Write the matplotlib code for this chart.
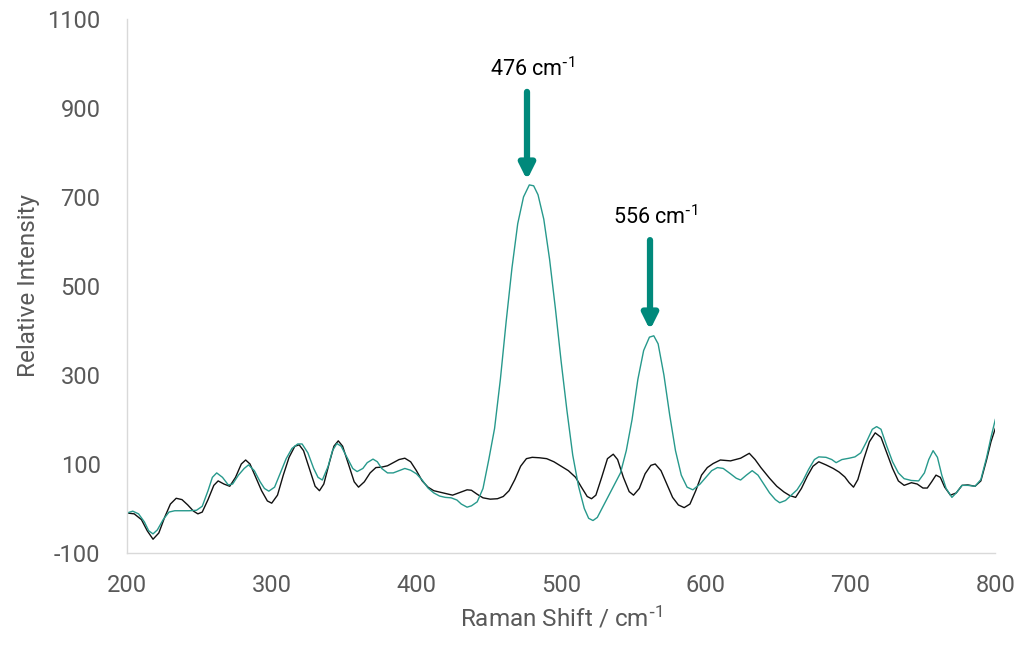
import numpy as np
import matplotlib
matplotlib.use('Agg')
from matplotlib import pyplot as plt

plt.rcParams['font.family'] = ['Roboto', 'DejaVu Sans']
plt.rcParams['mathtext.default'] = 'regular'
plt.rcParams['axes.unicode_minus'] = False

# black trace (raman shift, intensity)
black_x = [200, 205, 210, 214, 218, 222, 226, 230, 234, 238, 242, 246, 249, 252, 256, 260, 263, 267, 271, 275,
           279, 282, 285, 289, 293, 297, 300, 304, 308, 312, 316, 319, 322, 326, 330, 333, 336, 340, 343, 346,
           349, 353, 357, 360, 364, 368, 372, 376, 380, 384, 388, 392, 396, 400, 404, 408, 412, 416, 420, 425,
           430, 435, 438, 442, 446, 451, 456, 460, 464, 468, 472, 476, 480, 485, 490, 495, 500, 505, 510, 514,
           518, 521, 524, 528, 532, 536, 539, 543, 547, 550, 554, 558, 562, 565, 569, 573, 577, 581, 585, 589,
           593, 597, 601, 605, 610, 617, 624, 630, 634, 638, 644, 649, 654, 658, 662, 666, 670, 674, 678, 683,
           688, 692, 696, 699, 702, 705, 709, 713, 717, 721, 725, 729, 733, 737, 742, 746, 750, 753, 756, 759,
           762, 765, 769, 773, 777, 781, 786, 790, 794, 797, 800]
black_y = [-10, -12, -25, -50, -69, -55, -20, 10, 23, 20, 8, -6, -12, -8, 20, 52, 62, 55, 50, 70,
           100, 109, 100, 70, 40, 17, 12, 30, 75, 115, 140, 143, 130, 90, 50, 40, 55, 105, 140, 152,
           140, 100, 60, 48, 60, 80, 92, 93, 96, 103, 110, 113, 105, 85, 62, 48, 40, 37, 34, 30,
           36, 42, 41, 32, 24, 21, 22, 27, 40, 65, 95, 112, 115, 114, 112, 105, 95, 85, 70, 48,
           27, 22, 30, 70, 112, 122, 110, 70, 38, 30, 45, 78, 97, 100, 85, 55, 25, 8, 2, 10,
           40, 75, 92, 101, 109, 107, 113, 124, 110, 92, 68, 50, 37, 29, 25, 45, 72, 95, 105, 98,
           90, 82, 71, 58, 48, 65, 110, 150, 170, 160, 125, 90, 62, 52, 58, 55, 46, 46, 60, 75,
           70, 48, 30, 35, 52, 53, 50, 62, 110, 150, 180]

# teal trace
teal_x = [200, 204, 208, 212, 215, 218, 221, 225, 229, 233, 238, 243, 248, 252, 256, 259, 262, 266, 270, 273,
          277, 281, 284, 288, 292, 295, 298, 302, 306, 310, 314, 318, 321, 325, 329, 332, 335, 339, 342, 345,
          348, 352, 356, 359, 363, 366, 370, 373, 376, 380, 384, 388, 392, 396, 400, 404, 408, 412, 416, 420,
          424, 428, 431, 435, 438, 442, 446, 450, 454, 458, 462, 466, 470, 474, 478, 481, 484, 488, 492, 496,
          500, 504, 508, 512, 516, 519, 522, 525, 529, 533, 537, 541, 545, 549, 553, 557, 561, 564, 567, 571,
          575, 579, 583, 587, 591, 596, 600, 604, 608, 612, 617, 621, 624, 628, 632, 636, 640, 644, 648, 651,
          655, 659, 663, 667, 671, 675, 678, 683, 687, 690, 694, 699, 703, 707, 711, 715, 718, 721, 725, 729,
          733, 737, 742, 747, 751, 754, 757, 760, 763, 766, 770, 773, 777, 781, 786, 790, 794, 797, 800]
teal_y = [-10, -6, -12, -30, -50, -57, -48, -25, -8, -5, -5, -5, -4, 5, 40, 70, 80, 70, 53, 55,
          75, 90, 98, 85, 60, 45, 39, 48, 80, 112, 135, 145, 145, 125, 90, 70, 64, 95, 130, 146,
          140, 115, 90, 83, 90, 103, 111, 105, 90, 80, 80, 85, 90, 86, 78, 64, 46, 35, 28, 25,
          24, 19, 10, 3, 6, 15, 45, 110, 180, 290, 420, 540, 640, 700, 727, 725, 705, 650, 560, 450,
          330, 220, 120, 50, 0, -22, -27, -20, 5, 30, 55, 80, 130, 200, 290, 355, 385, 388, 370, 300,
          210, 130, 75, 48, 42, 55, 70, 85, 92, 90, 78, 68, 64, 75, 85, 75, 55, 35, 20, 13,
          18, 30, 42, 62, 88, 110, 116, 115, 110, 103, 110, 113, 116, 125, 150, 178, 184, 178, 140, 105,
          80, 67, 63, 62, 80, 110, 130, 115, 75, 45, 25, 35, 52, 52, 50, 65, 115, 160, 200]

# peak labels: text, arrow x, arrow tail y, arrow head y
peaks = ['476 cm$^{\\text{-}1}$', '556 cm$^{\\text{-}1}$']
peak_x = [476.4, 561.4]
peak_tail = [936, 603]
peak_head = [738, 401]

grey = '#595959'
teal = '#27998C'
arrow_col = '#00897B'

fig = plt.figure(figsize=(10.24, 6.51), dpi=100)
ax = fig.add_axes([0.124, 0.1505, 0.848, 0.8205])

ax.plot(black_x, black_y, color='#111111', lw=1.0)
ax.plot(teal_x, teal_y, color=teal, lw=1.0)

for t, px, y0, y1 in zip(peaks, peak_x, peak_tail, peak_head):
    ax.annotate('', xy=(px, y1), xytext=(px, y0),
                arrowprops=dict(arrowstyle='-|>,head_width=0.45,head_length=0.9',
                                color=arrow_col, lw=4.5, shrinkA=0, shrinkB=0))
    ax.text(px + 4, y0 + 25, t, ha='center', va='bottom', fontsize=15.5, color='black')

ax.set_xlim(200, 800)
ax.set_ylim(-100, 1100)
ax.set_xticks(np.arange(200, 801, 100))
ax.set_yticks(np.arange(-100, 1101, 200))

for s in ['top', 'right']:
    ax.spines[s].set_visible(False)
for s in ['left', 'bottom']:
    ax.spines[s].set_color('#d9d9d9')
    ax.spines[s].set_linewidth(1.0)

ax.tick_params(axis='both', length=0, labelsize=17, colors=grey)
ax.tick_params(axis='x', pad=15)
ax.tick_params(axis='y', pad=19)

ax.set_xlabel('Raman Shift / cm$^{\\text{-}1}$', fontsize=17.5, color=grey, labelpad=6)
ax.set_ylabel('Relative Intensity', fontsize=17.5, color=grey, labelpad=5)

plt.savefig('out.png', dpi=100, facecolor='white')
